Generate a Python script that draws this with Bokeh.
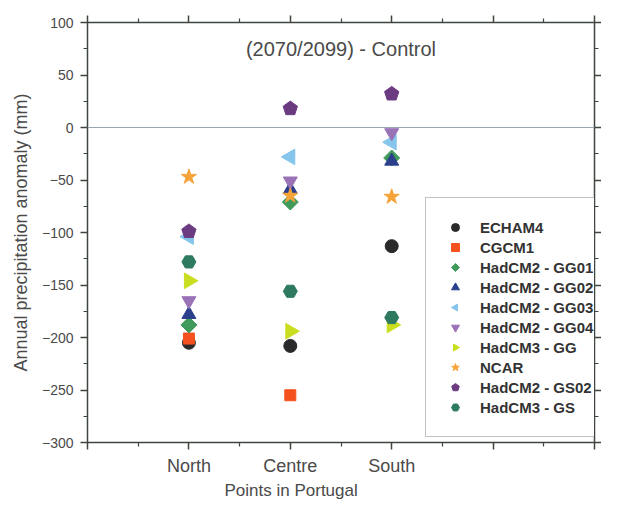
import math
from bokeh.plotting import figure
from bokeh.models import (LinearAxis, FixedTicker, Span, Label, Legend, LegendItem,
                          ColumnDataSource, Range1d, Title)
from bokeh.embed import file_html
from bokeh.resources import INLINE

# ---------------- data ----------------
regions = ["North", "Centre", "South"]
region_pos = [1, 2, 3]
x_tick_pos = [0, 1, 2, 3, 4, 5]

models = ["ECHAM4", "CGCM1", "HadCM2 - GG01", "HadCM2 - GG02", "HadCM2 - GG03",
          "HadCM2 - GG04", "HadCM3 - GG", "NCAR", "HadCM2 - GS02", "HadCM3 - GS"]

echam4 = [-205, -208, -113]
cgcm1 = [-201, -255, float("nan")]
hadcm2_gg01 = [-188, -71, -29]
hadcm2_gg02 = [-178, -59, -32]
hadcm2_gg03 = [-104, -28, -14]
hadcm2_gg04 = [-165, -51, -5]
hadcm3_gg = [-146, -194, -188]
ncar = [-47, -65, -66]
hadcm2_gs02 = [-99, 18, 32]
hadcm3_gs = [-128, -156, -181]

series = [echam4, cgcm1, hadcm2_gg01, hadcm2_gg02, hadcm2_gg03,
          hadcm2_gg04, hadcm3_gg, ncar, hadcm2_gs02, hadcm3_gs]

colors = ["#2a2a2a", "#f4511e", "#3f9a5c", "#2b3f8c", "#86c5ec",
          "#9a72b6", "#c9de1e", "#f6a33a", "#6b3b82", "#2e7a60"]
# (kind, marker-or-sides, angle, size-or-radius)
shapes = [("m", "circle", 0, 13),
          ("m", "square", 0, 11),
          ("n", 4, 0, 8),
          ("m", "triangle", 0, 14),
          ("n", 3, math.pi / 2, 9),
          ("m", "inverted_triangle", 0, 14),
          ("n", 3, -math.pi / 2, 9),
          ("m", "star", 0, 16),
          ("n", 5, 0, 7.5),
          ("m", "hex", 0, 14)]

FONT = "Liberation Sans"
TXT = "#4a4a4a"
AX = "#3f463f"

p = figure(width=601, height=499, output_backend="svg", toolbar_location=None,
           x_range=Range1d(0, 5), y_range=Range1d(-300, 100),
           min_border_left=87, min_border_right=3, min_border_top=22, min_border_bottom=0,
           x_axis_type=None, y_axis_type=None)
p.grid.visible = False
p.outline_line_color = AX
p.background_fill_color = "white"
p.border_fill_color = "white"

xt = FixedTicker(ticks=x_tick_pos, minor_ticks=[0.5, 1.5, 2.5, 3.5, 4.5])
yt = FixedTicker(ticks=list(range(-300, 101, 50)), minor_ticks=list(range(-275, 100, 50)))

def style(ax, labels=True):
    ax.axis_line_color = AX
    ax.axis_line_width = 1.5
    ax.major_tick_line_color = AX
    ax.minor_tick_line_color = AX
    ax.major_tick_line_width = 1.5
    ax.minor_tick_line_width = 1.2
    ax.major_tick_in = 0
    ax.minor_tick_in = 0
    ax.major_tick_out = 7
    ax.minor_tick_out = 4
    if not labels:
        ax.major_label_overrides = {t: "" for t in ax.ticker.ticks}
        ax.major_label_text_font_size = "1px"
        ax.major_label_standoff = 0

xb = LinearAxis(ticker=xt)
style(xb)
xb.major_label_overrides = {0: "", 1: regions[0], 2: regions[1], 3: regions[2], 4: "", 5: ""}
xb.major_label_text_font = FONT
xb.major_label_text_font_size = "18px"
xb.major_label_text_color = TXT
xb.major_label_standoff = 6
p.add_layout(xb, "below")

xa = LinearAxis(ticker=xt)
style(xa, labels=False)
p.add_layout(xa, "above")

yl = LinearAxis(ticker=yt)
style(yl)
yl.major_label_text_font = FONT
yl.major_label_text_font_size = "14px"
yl.major_label_text_color = TXT
yl.major_label_standoff = 7
yl.axis_label = "Annual precipitation anomaly (mm)"
yl.axis_label_text_font = FONT
yl.axis_label_text_font_size = "18px"
yl.axis_label_text_font_style = "normal"
yl.axis_label_text_color = TXT
yl.axis_label_standoff = 8
p.add_layout(yl, "left")

yr = LinearAxis(ticker=yt)
style(yr, labels=False)
p.add_layout(yr, "right")

p.add_layout(Title(text="Points in Portugal", align="left", offset=137, standoff=0,
                   text_font=FONT, text_font_size="17px", text_font_style="normal",
                   text_color=TXT), "below")

p.add_layout(Span(location=0, dimension="width", line_color="#9aa6b4", line_width=1.2))

items = []
for name, vals, c, (kind, m, a, s) in zip(models, series, colors, shapes):
    src = ColumnDataSource(dict(x=region_pos, y=vals))
    if kind == "n":
        r = p.ngon(x="x", y="y", radius=s, radius_units="screen", n=m,
                   angle=a, fill_color=c, line_color=c, source=src)
    else:
        r = p.scatter(x="x", y="y", marker=m, size=s, fill_color=c,
                      line_color=c, source=src)
    items.append(LegendItem(label=name, renderers=[r]))

legend = Legend(items=items, location=(338, 5))
legend.label_text_font = FONT
legend.label_text_font_size = "15px"
legend.label_text_font_style = "bold"
legend.label_text_color = "#333333"
legend.glyph_width = 20
legend.glyph_height = 20
legend.label_height = 20
legend.spacing = 0
legend.padding = 19
legend.margin = 0
legend.label_standoff = 15
legend.border_line_color = "#7d8590"
legend.border_line_width = 1
legend.background_fill_color = "white"
legend.background_fill_alpha = 1
p.add_layout(legend, "center")

p.add_layout(Label(x=2.5, y=75, text="(2070/2099) - Control", text_align="center",
                   text_baseline="middle", text_font=FONT, text_font_size="20px",
                   text_color=TXT))

open("out.html", "w").write(file_html(p, INLINE))
